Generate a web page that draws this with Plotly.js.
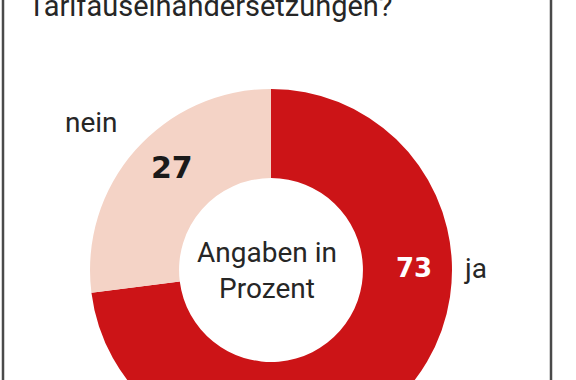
<!DOCTYPE html>
<html>
<head>
<meta charset="utf-8">
<script src="https://cdn.plot.ly/plotly-3.0.1.min.js"></script>
<style>
html,body{margin:0;padding:0;overflow:hidden;background:#fff;width:576px;height:380px;}
#chart{width:576px;height:480px;}
</style>
</head>
<body>
<div id="chart"></div>
<script>
// Data
const labels = ['ja', 'nein'];
const values = [73, 27];
const sliceColors = ['#CC1417', '#F4D3C6'];
const titleText = 'Tarifauseinandersetzungen?';
const centerText = 'Angaben in<br>Prozent';

const W = 576, H = 480;
const px = x => x / W;
const py = y => 1 - y / H;

const cx = 271, cy = 270, r = 181;

const trace = {
  type: 'pie',
  labels: labels,
  values: values,
  sort: false,
  direction: 'clockwise',
  rotation: 0,
  hole: 0.508,
  marker: {colors: sliceColors, line: {width: 0}},
  textinfo: 'none',
  hoverinfo: 'none',
  showlegend: false,
  domain: {x: [px(cx - r), px(cx + r)], y: [py(cy + r), py(cy - r)]}
};

const darkFont = {family: 'Roboto, sans-serif', size: 28, color: '#262626'};

const annotations = [
  {x: px(210), y: py(5.8), text: titleText, showarrow: false, xanchor: 'center', yanchor: 'middle',
   font: {family: 'Roboto, sans-serif', size: 29, color: '#262626'}},
  {x: px(91), y: py(123), text: labels[1], showarrow: false, xanchor: 'center', yanchor: 'middle', font: darkFont},
  {x: px(475), y: py(268), text: labels[0], showarrow: false, xanchor: 'center', yanchor: 'middle', font: darkFont},
  {x: px(172), y: py(167.5), text: '<b>' + values[1] + '</b>', showarrow: false, xanchor: 'center', yanchor: 'middle',
   font: {family: 'DejaVu Sans, sans-serif', size: 30, color: '#1a1a1a'}},
  {x: px(414), y: py(268), text: '<b>' + values[0] + '</b>', showarrow: false, xanchor: 'center', yanchor: 'middle',
   font: {family: 'DejaVu Sans, sans-serif', size: 26, color: '#ffffff'}},
  {x: px(267), y: py(270), text: centerText, showarrow: false, xanchor: 'center', yanchor: 'middle', font: darkFont}
];

const layout = {
  width: W, height: H,
  margin: {l: 0, r: 0, t: 0, b: 0, pad: 0},
  paper_bgcolor: '#ffffff',
  plot_bgcolor: '#ffffff',
  showlegend: false,
  annotations: annotations,
  shapes: [
    {type: 'line', xref: 'paper', yref: 'paper', x0: px(3), x1: px(3), y0: 0, y1: 1, line: {color: '#4a4a4a', width: 2.5}},
    {type: 'line', xref: 'paper', yref: 'paper', x0: px(551), x1: px(551), y0: 0, y1: 1, line: {color: '#4a4a4a', width: 2.5}}
  ]
};

Plotly.newPlot('chart', [trace], layout, {displayModeBar: false, staticPlot: true});
</script>
</body>
</html>
